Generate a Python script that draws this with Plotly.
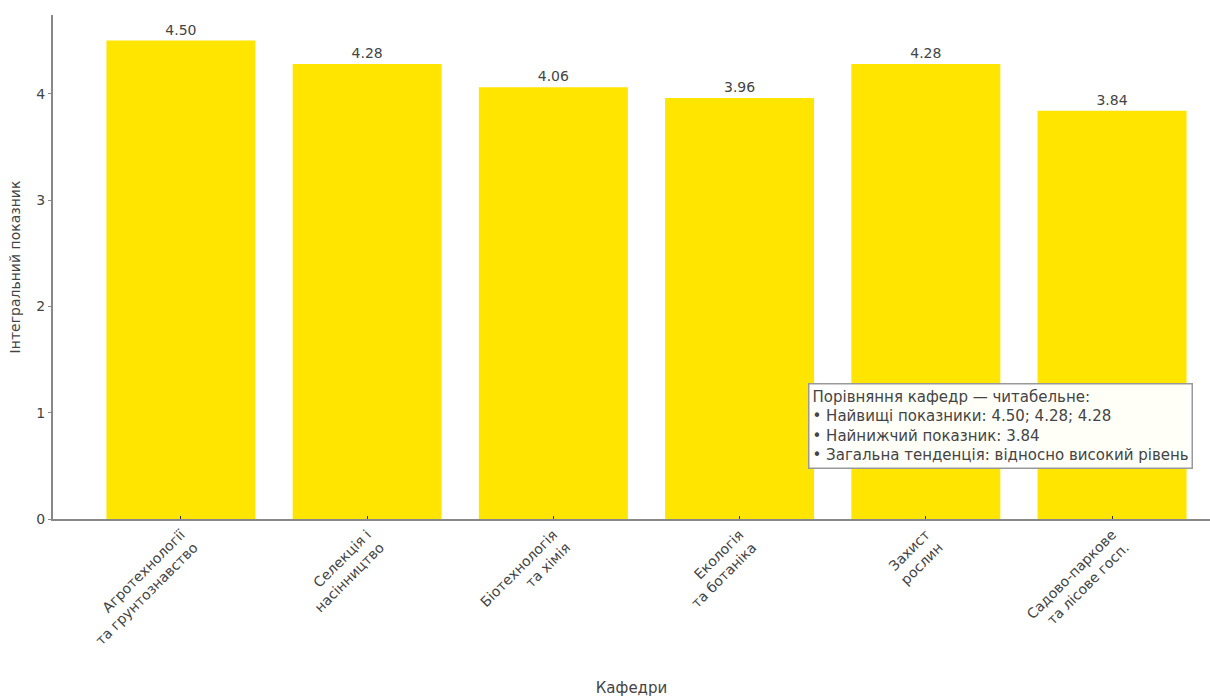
import plotly.graph_objects as go

categories = [
    "Агротехнології<br>та грунтознавство",
    "Селекція і<br>насінництво",
    "Біотехнологія<br>та хімія",
    "Екологія<br>та ботаніка",
    "Захист<br>рослин",
    "Садово-паркове<br>та лісове госп.",
]
values = [4.50, 4.28, 4.06, 3.96, 4.28, 3.84]

note_lines = [
    "Порівняння кафедр — читабельне:",
    "• Найвищі показники: 4.50; 4.28; 4.28",
    "• Найнижчий показник: 3.84",
    "• Загальна тенденція: відносно високий рівень",
]

FONT = "DejaVu Sans"
TXT = "#444444"
AX = "#888888"

fig = go.Figure(
    go.Bar(
        x=list(range(len(categories))),
        y=values,
        width=0.8,
        marker=dict(color="#FFE500", line=dict(width=0)),
        text=[f"{v:.2f}" for v in values],
        textposition="outside",
        textfont=dict(family=FONT, size=14, color=TXT),
        cliponaxis=False,
    )
)

fig.update_layout(
    width=1210,
    height=697,
    margin=dict(l=53, r=0, t=15, b=178),
    plot_bgcolor="white",
    paper_bgcolor="white",
    font=dict(family=FONT, size=14, color=TXT),
    showlegend=False,
    bargap=0.2,
)

fig.update_xaxes(
    tickmode="array",
    tickvals=list(range(len(categories))),
    ticktext=categories,
    range=[-0.687, 5.526],
    tickangle=-45,
    ticks="inside",
    ticklen=3,
    tickcolor="#333",
    showline=True,
    linecolor=AX,
    linewidth=2,
    showgrid=False,
    zeroline=False,
    tickfont=dict(family=FONT, size=14, color=TXT),
    title=dict(text="Кафедри", font=dict(family=FONT, size=15, color=TXT), standoff=35),
)

fig.update_yaxes(
    range=[0, 4.74],
    tickvals=[0, 1, 2, 3, 4],
    ticks="outside",
    ticklen=3,
    tickcolor=AX,
    showline=True,
    linecolor=AX,
    linewidth=2,
    showgrid=False,
    zeroline=False,
    tickfont=dict(family=FONT, size=14, color=TXT),
    title=dict(text="Інтегральний показник", font=dict(family=FONT, size=14, color=TXT), standoff=12),
)

fig.add_annotation(
    xref="paper",
    yref="paper",
    x=(808 - 53) / (1210 - 53),
    y=(519 - 383) / 504,
    xanchor="left",
    yanchor="top",
    align="left",
    showarrow=False,
    text="<br>".join(note_lines),
    font=dict(family=FONT, size=15, color=TXT),
    bgcolor="rgba(255,255,255,0.97)",
    bordercolor="#999999",
    borderwidth=1.5,
    borderpad=3,
)

fig.write_html("out.html")
